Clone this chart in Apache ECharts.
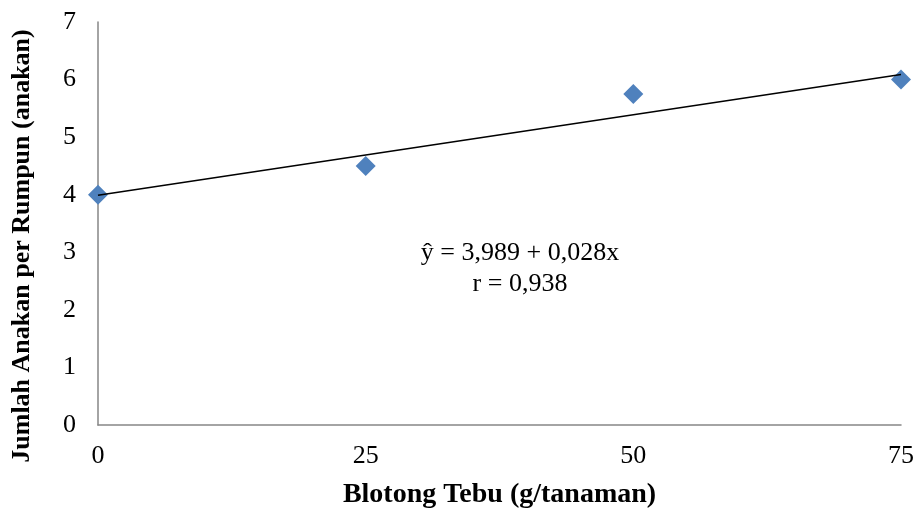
<!DOCTYPE html>
<html>
<head>
<meta charset="utf-8">
<script src="https://cdn.jsdelivr.net/npm/echarts@6/dist/echarts.min.js"></script>
<style>
  html, body { margin: 0; padding: 0; background: #fff; }
  #chart { width: 917px; height: 508px; }
</style>
</head>
<body>
<div id="chart"></div>
<script>
// dosis blotong (g/tanaman) dan jumlah anakan
const dosis = [0, 25, 50, 75];
const anakan = [4.0, 4.5, 5.75, 6.0];
// garis regresi y = 3,989 + 0,028x
const intercept = 3.989;
const slope = 0.028;
const trendX = [0, 75];
const persamaan = ['ŷ = 3,989 + 0,028x', 'r = 0,938'];
const judulY = 'Jumlah Anakan per Rumpun (anakan)';

const chart = echarts.init(document.getElementById('chart'));
const serif = '"Liberation Serif", "Times New Roman", serif';

const option = {
    animation: false,
    grid: { left: 98, right: 16, top: 22, bottom: 83, containLabel: false, outerBoundsMode: 'none' },
    xAxis: {
        type: 'value',
        min: 0, max: 75, interval: 25,
        name: 'Blotong Tebu (g/tanaman)',
        nameLocation: 'middle',
        nameGap: 56,
        nameTextStyle: { fontFamily: serif, fontSize: 28, fontWeight: 'bold', color: '#000' },
        axisLine: { lineStyle: { color: '#868686', width: 1.5 } },
        axisTick: { show: false },
        splitLine: { show: false },
        axisLabel: { fontFamily: serif, fontSize: 26, color: '#000', margin: 18 }
    },
    yAxis: {
        type: 'value',
        min: 0, max: 7, interval: 1,
        axisLine: { show: true, lineStyle: { color: '#868686', width: 1.5 } },
        axisTick: { show: false },
        splitLine: { show: false },
        axisLabel: { fontFamily: serif, fontSize: 26, color: '#000', margin: 22 }
    },
    series: [
        {
            type: 'line',
            data: trendX.map(x => [x, intercept + slope * x]),
            symbol: 'none',
            lineStyle: { color: '#000', width: 1.5 },
            z: 3
        },
        {
            type: 'scatter',
            data: dosis.map((d, i) => [d, anakan[i]]),
            symbol: 'diamond',
            symbolSize: 20,
            itemStyle: { color: '#4F81BD', opacity: 1 },
            z: 2
        }
    ],
    graphic: [
        {
            type: 'text',
            x: 520, y: 238,
            style: {
                text: persamaan.join('\n'),
                align: 'center',
                verticalAlign: 'top',
                font: '26px ' + serif,
                lineHeight: 31,
                fill: '#000'
            }
        },
        {
            type: 'text',
            x: 22, y: 246,
            rotation: Math.PI / 2,
            style: {
                text: judulY,
                align: 'center',
                verticalAlign: 'middle',
                font: 'bold 26px ' + serif,
                fill: '#000'
            }
        }
    ]
};
chart.setOption(option);
</script>
</body>
</html>
